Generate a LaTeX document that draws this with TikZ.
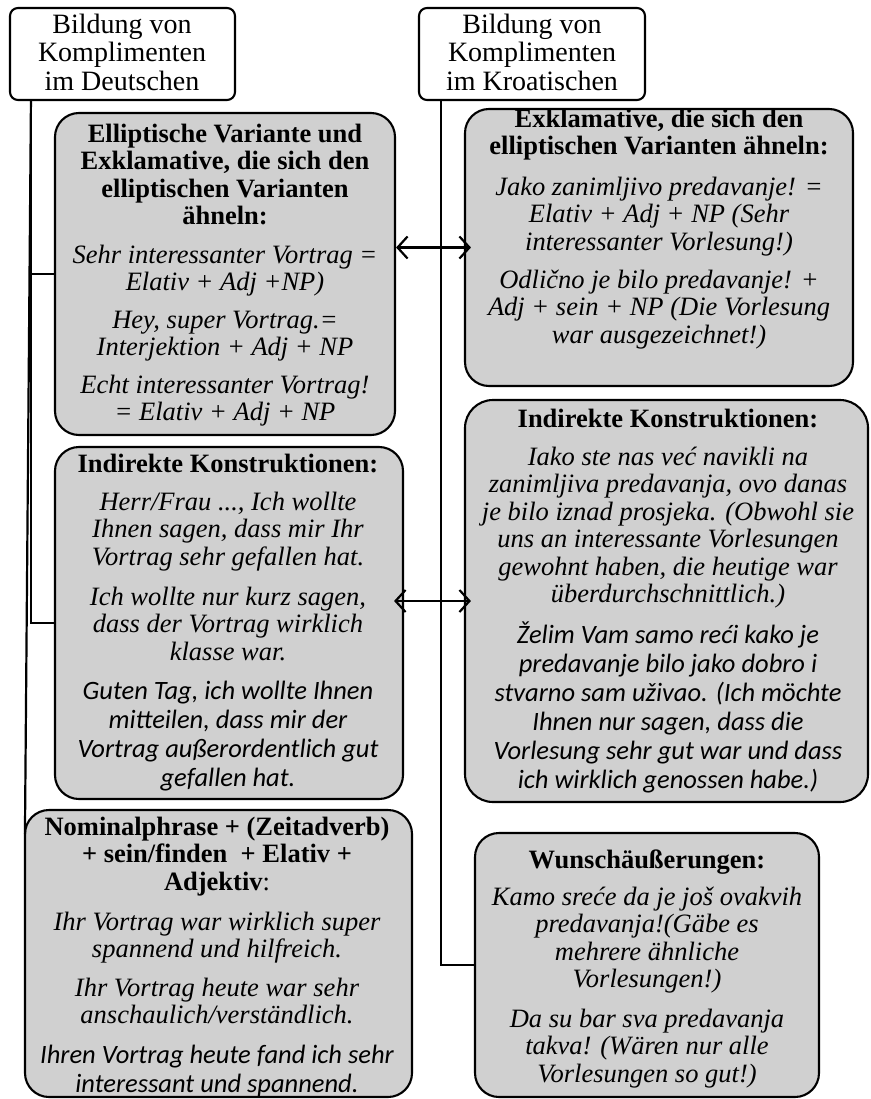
\documentclass[tikz,border=0pt]{standalone}
\usepackage{fontspec}
\setmainfont{Liberation Serif}
\newfontfamily\calfont{Carlito}
\usetikzlibrary{arrows.meta}
\definecolor{boxgray}{RGB}{208,208,208}
\begin{document}
\begin{tikzpicture}[x=1pt,y=-1pt,
 hdr/.style={draw, line width=2.1pt, rounded corners=8pt, fill=white, inner sep=0pt},
 gbox/.style={draw, line width=2.1pt, rounded corners=24pt, fill=boxgray, inner sep=0pt},
 conn/.style={line width=2.2pt},
 dbl/.style={line width=2.2pt, {Straight Barb[length=10pt,width=22pt]}-{Straight Barb[length=10pt,width=22pt]}},
 tx/.style={inner sep=0pt, align=center, anchor=north},
 hd/.style={tx, font=\fontsize{28pt}{28.5pt}\selectfont},
 bt/.style={tx, font=\fontsize{26.5pt}{27.5pt}\selectfont\bfseries},
 it/.style={tx, font=\fontsize{26.5pt}{27.5pt}\selectfont\itshape},
 ct/.style={tx, font=\fontsize{26.5pt}{29pt}\selectfont\calfont\itshape},
]
\useasboundingbox (0,0) rectangle (870,1099);

% boxes
\node[hdr, minimum width=225pt, minimum height=92pt] (hD) at (122.5,54) {};
\node[hdr, minimum width=226pt, minimum height=92pt] (hK) at (532,54) {};
\node[gbox, minimum width=340pt, minimum height=322pt] (b1) at (225,274) {};
\node[gbox, minimum width=348pt, minimum height=352pt] (b2) at (229,623) {};
\node[gbox, minimum width=387pt, minimum height=287pt] (b3) at (218.5,953.5) {};
\node[gbox, minimum width=388pt, minimum height=277pt] (r1) at (659,247.5) {};
\node[gbox, rounded corners=28pt, minimum width=403pt, minimum height=402pt] (r2) at (666.5,601) {};
\node[gbox, minimum width=344pt, minimum height=264pt] (r3) at (647,965) {};

% connectors
\draw[conn] ([xshift=22pt]hD.south west) |- (b1.west);
\draw[conn] ([xshift=22pt]hD.south west) |- (b2.west);
\draw[conn] ([xshift=22pt]hD.south west) -- ([xshift=1pt,yshift=-25pt]b3.north west);
\draw[conn] ([xshift=23pt]hK.south west) |- (r3.west);
\draw[dbl, shorten >=-7pt] (r1.west -| b1.east) -- (r1.west);
\draw[dbl, shorten >=-7pt] ([xshift=-10pt]r2.west -| b2.east) -- (r2.west);

% header texts
\node[hd] (thD) at (122,9) {\rule{0pt}{24pt}Bildung von\\Komplimenten\\im Deutschen};
\node[hd] (thK) at (532,9) {\rule{0pt}{24pt}Bildung von\\Komplimenten\\im Kroatischen};

% box 1
\node[bt] (t1a) at (225,118) {\rule{0pt}{24pt}Elliptische Variante und\\Exklamative, die sich den\\elliptischen Varianten\\ähneln:};
\node[it] (t1b) at (225,239) {\rule{0pt}{24pt}Sehr interessanter Vortrag =\\Elativ + Adj +NP)};
\node[it] (t1c) at (225,304) {\rule{0pt}{24pt}Hey, super Vortrag.=\\Interjektion + Adj + NP};
\node[it] (t1d) at (225,369) {\rule{0pt}{24pt}Echt interessanter Vortrag!\\= Elativ + Adj + NP};

% box 2
\node[bt] (t2a) at (228,448) {\rule{0pt}{24pt}Indirekte Konstruktionen:};
\node[it] (t2b) at (228,486) {\rule{0pt}{24pt}Herr/Frau ..., Ich wollte\\Ihnen sagen, dass mir Ihr\\Vortrag sehr gefallen hat.};
\node[it] (t2c) at (228,581) {\rule{0pt}{24pt}Ich wollte nur kurz sagen,\\dass der Vortrag wirklich\\klasse war.};
\node[ct] (t2d) at (228,675) {\rule{0pt}{24pt}Guten Tag, ich wollte Ihnen\\mitteilen, dass mir der\\Vortrag außerordentlich gut\\gefallen hat.};

% box 3
\node[bt] (t3a) at (217,811) {\rule{0pt}{24pt}Nominalphrase + (Zeitadverb)\\+ sein/finden\ \ + Elativ +\\Adjektiv{\mdseries :}};
\node[it] (t3b) at (217,906) {\rule{0pt}{24pt}Ihr Vortrag war wirklich super\\spannend und hilfreich.};
\node[it] (t3c) at (217,972) {\rule{0pt}{24pt}Ihr Vortrag heute war sehr\\anschaulich/verständlich.};
\node[ct] (t3d) at (217,1039) {\rule{0pt}{24pt}Ihren Vortrag heute fand ich sehr\\interessant und spannend.};

% right box 1
\node[bt] (u1a) at (659,103) {\rule{0pt}{24pt}Exklamative, die sich den\\elliptischen Varianten ähneln:};
\node[it] (u1b) at (659,171) {\rule{0pt}{24pt}Jako zanimljivo predavanje! =\\Elativ + Adj + NP (Sehr\\interessanter Vorlesung!)};
\node[it] (u1c) at (659,264) {\rule{0pt}{24pt}Odlično je bilo predavanje! +\\Adj + sein + NP (Die Vorlesung\\war ausgezeichnet!)};

% right box 2
\node[bt] (u2a) at (668,403) {\rule{0pt}{24pt}Indirekte Konstruktionen:};
\node[it] (u2b) at (668,441) {\rule{0pt}{24pt}Iako ste nas već navikli na\\zanimljiva predavanja, ovo danas\\je bilo iznad prosjeka. (Obwohl sie\\uns an interessante Vorlesungen\\gewohnt haben, die heutige war\\überdurchschnittlich.)};
\node[ct] (u2c) at (668,619) {\rule{0pt}{24pt}Želim Vam samo reći kako je\\predavanje bilo jako dobro i\\stvarno sam uživao. (Ich möchte\\Ihnen nur sagen, dass die\\Vorlesung sehr gut war und dass\\ich wirklich genossen habe.)};

% right box 3
\node[bt] (u3a) at (647,844) {\rule{0pt}{24pt}Wunschäußerungen:};
\node[it] (u3b) at (647,881) {\rule{0pt}{24pt}Kamo sreće da je još ovakvih\\predavanja!(Gäbe es\\mehrere ähnliche\\Vorlesungen!)};
\node[it] (u3c) at (647,1003) {\rule{0pt}{24pt}Da su bar sva predavanja\\takva! (Wären nur alle\\Vorlesungen so gut!)};
\end{tikzpicture}
\end{document}
